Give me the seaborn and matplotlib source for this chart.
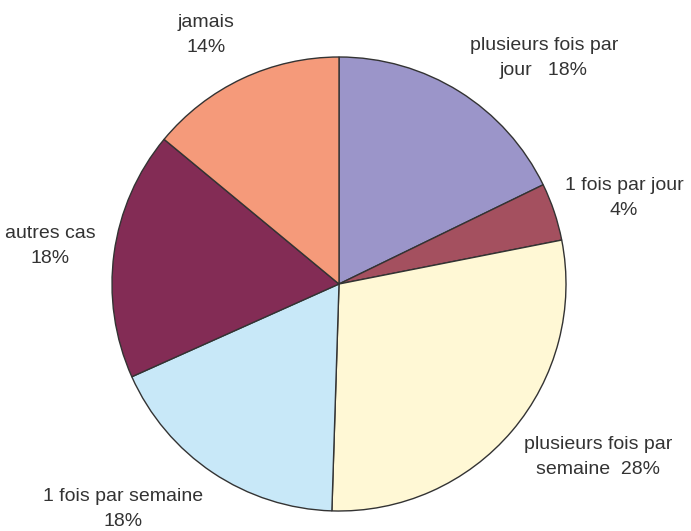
import matplotlib
matplotlib.use("Agg")
import matplotlib.pyplot as plt
import seaborn as sns

# data, clockwise from 12 o'clock (shares)
categories = ["plusieurs fois par jour", "1 fois par jour", "plusieurs fois par semaine",
              "1 fois par semaine", "autres cas", "jamais"]
shares = [17.8, 4.1, 28.6, 17.8, 17.7, 14.0]
label_texts = ["plusieurs fois par\njour   18%", "1 fois par jour\n4%",
               "plusieurs fois par\nsemaine  28%", "1 fois par semaine\n18%",
               "autres cas\n18%", "jamais\n14%"]
slice_colors = ["#9B95C9", "#A4505F", "#FFF8D5", "#C8E8F8", "#832C55", "#F59A7A"]

sns.set_style("white")
plt.rcParams["font.family"] = ["Liberation Sans", "DejaVu Sans"]
palette = sns.color_palette(slice_colors)

W, H = 691, 531
cx, cy, r = 339, 284, 227  # pie centre / radius in pixels

fig = plt.figure(figsize=(W / 100, H / 100), dpi=100)
ax = fig.add_axes([0, 0, 1, 1])

ax.pie(shares, colors=palette, startangle=90, counterclock=False, radius=1,
       wedgeprops=dict(edgecolor="#333333", linewidth=1.0))

ax.set_xlim(-cx / r, (W - cx) / r)
ax.set_ylim(-(H - cy) / r, cy / r)
ax.set_aspect("equal")
ax.axis("off")

# label positions (pixels) converted to data units
label_px = [(544, 58), (624, 198), (598, 457), (123, 509), (50, 246), (206, 35)]
for txt, (px, py) in zip(label_texts, label_px):
    ax.text((px - cx) / r, (cy - py) / r, txt, ha="center", va="center",
            fontsize=14, color="#333333", linespacing=1.55)

fig.savefig("out.png", dpi=100)
